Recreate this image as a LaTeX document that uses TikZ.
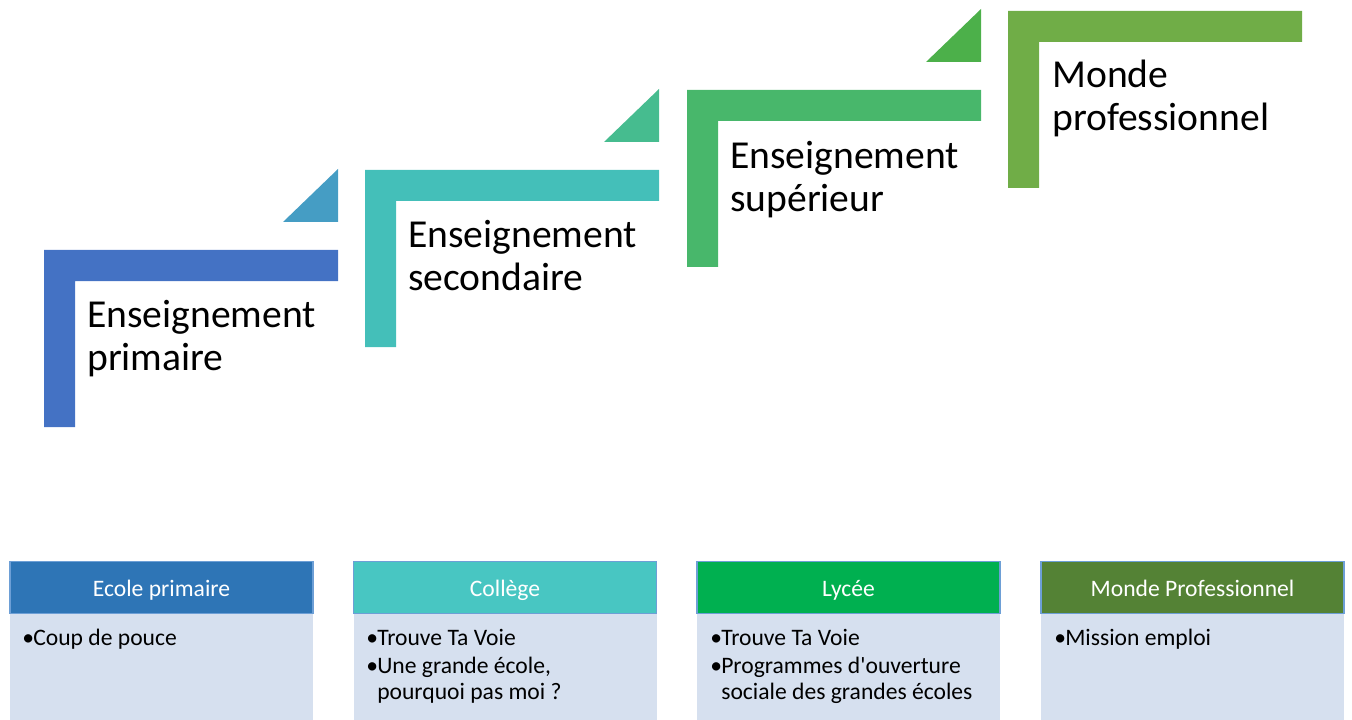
\documentclass[tikz,border=0pt]{standalone}
\usepackage{fontspec}
\setmainfont{Carlito}[Ligatures=TeXOff]
\definecolor{stA}{HTML}{4472C4}
\definecolor{trA}{HTML}{459DC4}
\definecolor{stB}{HTML}{44BFB9}
\definecolor{trB}{HTML}{46BC8F}
\definecolor{stC}{HTML}{48B76B}
\definecolor{trC}{HTML}{4CB04A}
\definecolor{stD}{HTML}{70AD47}
\definecolor{hA}{HTML}{2E75B6}
\definecolor{hB}{HTML}{48C6C2}
\definecolor{hC}{HTML}{00B050}
\definecolor{hD}{HTML}{548235}
\definecolor{bodyc}{HTML}{D6E0EF}
\definecolor{hline}{HTML}{6D9FD6}
\newcommand\bul{\makebox[8.25pt][l]{\textbullet}}
\newcommand\bigstrut{\rule{0pt}{24pt}}
\newcommand\smallstrut{\rule{0pt}{15pt}}
\begin{document}
\begin{tikzpicture}[x=0.75pt,y=-0.75pt,
  steptext/.style={anchor=north west,inner sep=0pt,align=left,
    font=\fontsize{29.7}{32.3}\selectfont,text=black},
  headbox/.style={draw=hline,line width=0.8pt,minimum width=227.25pt,
    minimum height=39pt,inner sep=0pt,text=white,text height=14pt,text depth=0pt,
    font=\fontsize{17.7}{19.5}\selectfont},
  bodytext/.style={anchor=north west,inner sep=0pt,align=left,
    font=\fontsize{17.7}{19.5}\selectfont,text=black}]
\useasboundingbox (0,0) rectangle (1352,720);
% steps
\foreach \x/\y/\c in {44/250/stA,365/170/stB,687/90/stC,1008/11/stD}{
  \fill[\c] (\x,\y) -- ++(294,0) -- ++(0,31) -- ++(-263,0) -- ++(0,146) -- ++(-31,0) -- cycle;
}
\foreach \x/\y/\c in {44/250/trA,365/170/trB,687/90/trC}{
  \fill[\c] (\x+239,\y-28) -- (\x+294,\y-81) -- (\x+294,\y-28) -- cycle;
}
\node[steptext] (t1) at (87,295) {\bigstrut Enseignement\\primaire};
\node[steptext] (t2) at (408,215) {\bigstrut Enseignement\\secondaire};
\node[steptext] (t3) at (730,136) {\bigstrut Enseignement\\supérieur};
\node[steptext] (t4) at (1052,55) {\bigstrut Monde\\professionnel};
% bottom boxes
\foreach \n/\cx/\c/\t in {1/161.5/hA/Ecole primaire,2/505/hB/Collège,3/848.5/hC/Lycée,4/1192.5/hD/Monde Professionnel}{
  \fill[bodyc] (\cx-151.5,613) rectangle (\cx+151.5,720);
  \node[headbox,fill=\c] (h\n) at (\cx,587.5) {\t};
}
\node[bodytext] (b1) at (22,625) {\smallstrut\bul Coup de pouce};
\node[bodytext] (b2) at (366,625) {\smallstrut\bul Trouve Ta Voie\\[2pt]\bul Une grande école,\\\hspace*{8.25pt}pourquoi pas moi ?};
\node[bodytext] (b3) at (710,625) {\smallstrut\bul Trouve Ta Voie\\[2pt]\bul Programmes d'ouverture\\\hspace*{8.25pt}sociale des grandes écoles};
\node[bodytext] (b4) at (1054,625) {\smallstrut\bul Mission emploi};
\end{tikzpicture}
\end{document}
